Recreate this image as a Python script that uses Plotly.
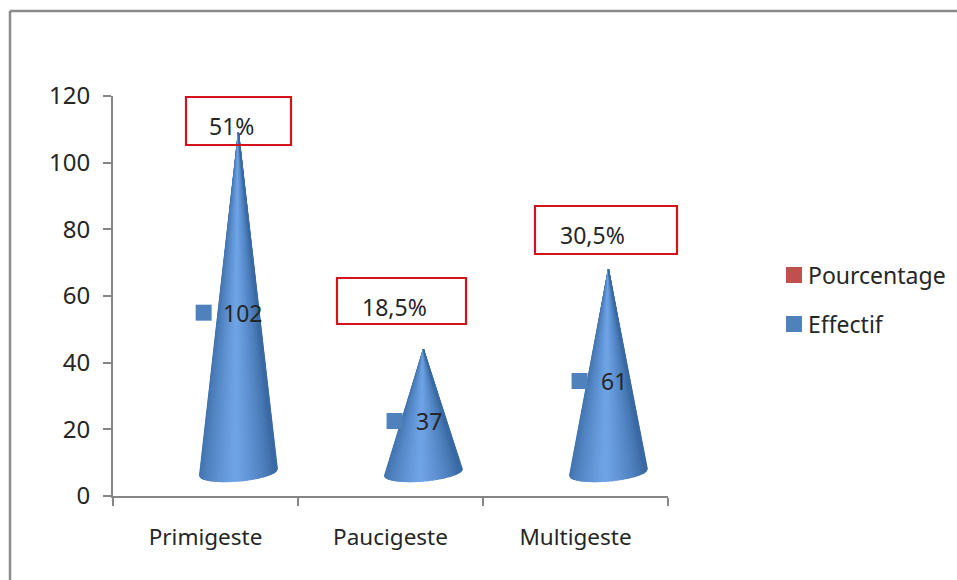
import math
import plotly.graph_objects as go

# Chart data
categories = ["Primigeste", "Paucigeste", "Multigeste"]
effectif = [102, 37, 61]
pourcentage = ["51%", "18,5%", "30,5%"]
legend_labels = ["Pourcentage", "Effectif"]

WIDTH, HEIGHT = 957, 580
LEFT, RIGHT, TOP, BOTTOM = 113, 668, 96, 496
FONT = "Noto Sans"
TEXT = "#262626"
AXIS = "#868686"
BLUE = "#4f81bd"
RED = "#c0504d"

# Cone proportions, in axis units; cones sit right of the category centre
CONE_SHIFT = 0.178
CONE_HALF_WIDTH = 0.211
BASE_CENTRE = 7.2
BASE_MINOR = 2.7
BASE_TILT = 1.0
APEX_LIFT = 7.0
STRIPS = 40

# Callout boxes around the percentages and label placement, in page pixels
boxes = [(186, 97, 291, 145), (337, 278, 466, 324), (535, 206, 677, 254)]
box_text = [(231, 126), (394, 307), (592, 235)]
marker_offset = [-0.01, 0.022, 0.022]
label_gap = [17, 19, 19]


def px(x):
    return (x - LEFT) / (RIGHT - LEFT)


def py(y):
    return (BOTTOM - y) / (BOTTOM - TOP)


def shade(u):
    """Cylindrical shading: u runs from -1 (left edge) to 1 (right edge)."""
    k = max(0.0, 1 - abs(u + 0.08)) ** 0.75
    dark, light = (58, 106, 164), (112, 165, 232)
    r, g, b = (round(d + (l - d) * k) for d, l in zip(dark, light))
    return f"rgb({r},{g},{b})"


fig = go.Figure()

# Category axis carries the tick labels and the boundary ticks
fig.add_trace(go.Scatter(x=categories, y=[None] * 3, xaxis="x", yaxis="y",
                         mode="markers", showlegend=False, hoverinfo="skip"))

# Each cone is a fan of thin triangles running from the apex to the base curve
for i, value in enumerate(effectif):
    apex = value + APEX_LIFT
    centre = i + CONE_SHIFT
    for s in range(STRIPS):
        t0 = math.pi + math.pi * s / STRIPS
        t1 = math.pi + math.pi * (s + 1) / STRIPS
        xs = [centre, centre + CONE_HALF_WIDTH * math.cos(t0),
              centre + CONE_HALF_WIDTH * math.cos(t1), centre]
        ys = [apex,
              BASE_CENTRE + BASE_MINOR * math.sin(t0) + BASE_TILT * math.cos(t0),
              BASE_CENTRE + BASE_MINOR * math.sin(t1) + BASE_TILT * math.cos(t1),
              apex]
        colour = shade((math.cos(t0) + math.cos(t1)) / 2)
        fig.add_trace(go.Scatter(x=xs, y=ys, xaxis="x2", yaxis="y", mode="lines",
                                 fill="toself", fillcolor=colour,
                                 line=dict(color=colour, width=1.2),
                                 showlegend=False, hoverinfo="skip"))

# Series markers with their value labels
marker_x = [i + off for i, off in enumerate(marker_offset)]
marker_y = [v / 2 + 4 for v in effectif]
fig.add_trace(go.Scatter(x=marker_x, y=marker_y, xaxis="x2", yaxis="y", mode="markers",
                         marker=dict(symbol="square", size=16, color=BLUE),
                         name="Effectif", showlegend=False))

annotations = []
for x, y, v, gap in zip(marker_x, marker_y, effectif, label_gap):
    annotations.append(dict(x=x, y=y, xref="x2", yref="y", text=str(v), showarrow=False,
                            xanchor="left", yanchor="middle", xshift=gap,
                            font=dict(family=FONT, size=23, color=TEXT)))

shapes = []
for (x0, y0, x1, y1), (tx, ty), label in zip(boxes, box_text, pourcentage):
    shapes.append(dict(type="rect", xref="paper", yref="paper", x0=px(x0), x1=px(x1),
                       y0=py(y0), y1=py(y1), line=dict(color="#d2141a", width=2.2)))
    annotations.append(dict(x=px(tx), y=py(ty), xref="paper", yref="paper", text=label,
                            xanchor="center", yanchor="middle", showarrow=False,
                            font=dict(family=FONT, size=23, color=TEXT)))

# Outer chart frame: only the top and left edges fall inside the page
shapes.append(dict(type="line", xref="paper", yref="paper", x0=px(10), x1=px(WIDTH), y0=py(11), y1=py(11),
                   line=dict(color="#8c8c8c", width=2.5)))
shapes.append(dict(type="line", xref="paper", yref="paper", x0=px(10), x1=px(10), y0=py(11), y1=py(HEIGHT),
                   line=dict(color="#8c8c8c", width=2.5)))

# Legend swatches and labels
for label, colour, y in zip(legend_labels, [RED, BLUE], [275, 324]):
    shapes.append(dict(type="rect", xref="paper", yref="paper", x0=px(786), x1=px(802),
                       y0=py(y - 8), y1=py(y + 8), fillcolor=colour, line=dict(width=0)))
    annotations.append(dict(x=px(806), y=py(y), xref="paper", yref="paper", text=label,
                            xanchor="left", yanchor="middle", showarrow=False,
                            font=dict(family=FONT, size=23, color=TEXT)))

fig.update_layout(
    width=WIDTH, height=HEIGHT, autosize=False,
    margin=dict(l=LEFT, r=WIDTH - RIGHT, t=TOP, b=HEIGHT - BOTTOM, pad=0),
    paper_bgcolor="white", plot_bgcolor="white", showlegend=False,
    xaxis=dict(type="category", categoryorder="array", categoryarray=categories,
               range=[-0.5, 2.5], tickson="boundaries", ticks="outside", ticklen=8, tickwidth=2,
               tickcolor=AXIS, showline=True, linecolor=AXIS, linewidth=2, showgrid=False,
               zeroline=False, ticklabelstandoff=20, tickfont=dict(family=FONT, size=22.5, color=TEXT)),
    xaxis2=dict(overlaying="x", range=[-0.5, 2.5], visible=False),
    yaxis=dict(range=[0, 120], tickvals=[0, 20, 40, 60, 80, 100, 120], ticks="outside", ticklen=8,
               tickwidth=2, tickcolor=AXIS, showline=True, linecolor=AXIS, linewidth=2,
               showgrid=False, zeroline=False, ticklabelstandoff=8,
               tickfont=dict(family=FONT, size=24, color=TEXT)),
    shapes=shapes, annotations=annotations,
)

fig.write_html("out.html", config=dict(displayModeBar=False))
